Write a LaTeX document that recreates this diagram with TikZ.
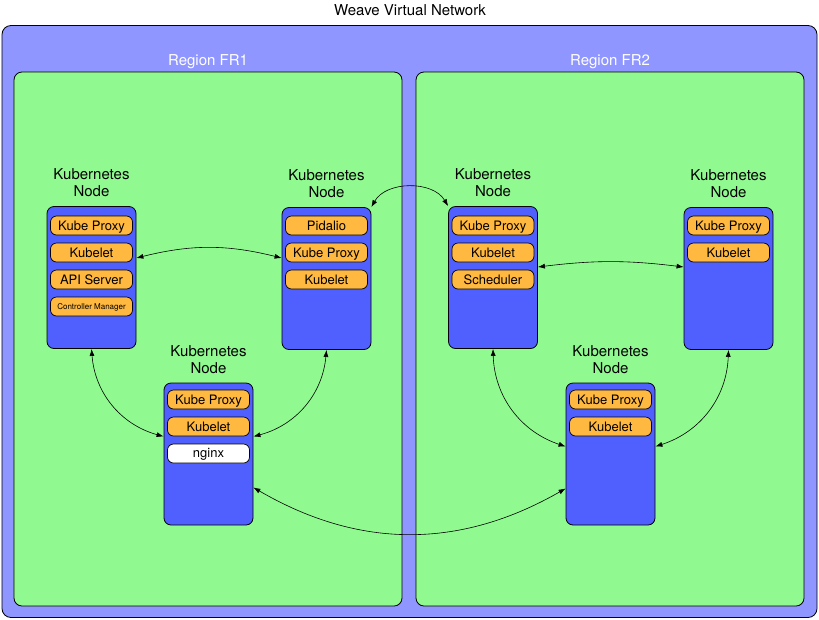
\documentclass[tikz,border=0pt]{standalone}
\usepackage{fontspec}
\setmainfont{TeX Gyre Heros}
\usetikzlibrary{positioning,arrows.meta}
\definecolor{netblue}{RGB}{143,150,255}
\definecolor{regiongreen}{RGB}{144,250,144}
\definecolor{nodeblue}{RGB}{80,96,255}
\definecolor{pillorange}{RGB}{255,184,64}
\begin{document}
\begin{tikzpicture}[x=1pt, y=-1pt,
    network/.style={draw, fill=netblue, rounded corners=9pt, line width=0.8pt, inner sep=0pt},
    region/.style={draw, fill=regiongreen, rounded corners=8pt, line width=0.8pt, minimum width=388pt, minimum height=534pt, inner sep=0pt},
    regiontitle/.style={text=white, font=\fontsize{15}{17}\selectfont, inner sep=0pt, text height=10.8pt, text depth=0pt},
    kubenode/.style={draw, fill=nodeblue, rounded corners=7pt, line width=0.8pt, minimum width=89pt, minimum height=142pt, inner sep=0pt},
    nodetitle/.style={align=center, font=\fontsize{15}{17}\selectfont, inner sep=0pt},
    pill/.style={draw, fill=pillorange, rounded corners=6pt, line width=0.7pt, minimum width=82pt, minimum height=19pt, inner sep=0pt, font=\fontsize{13}{15}\selectfont, text height=9.4pt, text depth=0pt},
    link/.style={{Latex[length=7pt,width=5pt]}-{Latex[length=7pt,width=5pt]}, line width=0.6pt}]
  \useasboundingbox (0,0) rectangle (819,619);

  % network and the two regions
  \node[network, minimum width=815pt, minimum height=592pt] (net) at (409.5,321.5) {};
  \node[font=\fontsize{15}{17}\selectfont, inner sep=0pt] (nettitle) at (410,10) {Weave Virtual Network};
  \node[region] (fr1) at (208,339) {};
  \node[region] (fr2) at (610,339) {};
  \node[regiontitle] (fr1title) at (208,60) {Region FR1};
  \node[regiontitle] (fr2title) at (610,60) {Region FR2};

  % kubernetes nodes
  \node[kubenode] (fr1a) at (91.5,277.5) {};
  \node[kubenode] (fr1b) at (326.5,278.5) {};
  \node[kubenode] (fr1c) at (208.5,454) {};
  \node[kubenode] (fr2a) at (493,277.5) {};
  \node[kubenode] (fr2b) at (728.5,278.5) {};
  \node[kubenode] (fr2c) at (610.5,454) {};
  \node[nodetitle, above=9pt of fr1a] {Kubernetes\\Node};
  \node[nodetitle, above=9pt of fr1b] {Kubernetes\\Node};
  \node[nodetitle, above=9pt of fr1c] {Kubernetes\\Node};
  \node[nodetitle, above=9pt of fr2a] {Kubernetes\\Node};
  \node[nodetitle, above=9pt of fr2b] {Kubernetes\\Node};
  \node[nodetitle, above=9pt of fr2c] {Kubernetes\\Node};

  % services
  \node[pill] (fr1a-proxy) at (91.5,225.5) {Kube Proxy};
  \node[pill] (fr1a-kubelet) at (91.5,252.5) {Kubelet};
  \node[pill] (fr1a-api) at (91.5,279.5) {API Server};
  \node[pill, font=\fontsize{8}{9}\selectfont, text height=5.8pt] (fr1a-ctrl) at (91.5,306.5) {Controller Manager};
  \node[pill] (fr1b-pidalio) at (326.5,225.5) {Pidalio};
  \node[pill] (fr1b-proxy) at (326.5,252.5) {Kube Proxy};
  \node[pill] (fr1b-kubelet) at (326.5,279.5) {Kubelet};
  \node[pill] (fr1c-proxy) at (208.5,399.5) {Kube Proxy};
  \node[pill] (fr1c-kubelet) at (208.5,426.5) {Kubelet};
  \node[pill, fill=white, text height=8pt] (fr1c-nginx) at (208.5,453.5) {nginx};
  \node[pill] (fr2a-proxy) at (493,225.5) {Kube Proxy};
  \node[pill] (fr2a-kubelet) at (493,252.5) {Kubelet};
  \node[pill] (fr2a-sched) at (493,279.5) {Scheduler};
  \node[pill] (fr2b-proxy) at (728.5,225.5) {Kube Proxy};
  \node[pill] (fr2b-kubelet) at (728.5,252.5) {Kubelet};
  \node[pill] (fr2c-proxy) at (610.5,399.5) {Kube Proxy};
  \node[pill] (fr2c-kubelet) at (610.5,426.5) {Kubelet};

  % links
  \draw[link] ([yshift=19.5pt]fr1a.east) to[bend left=14] ([yshift=20.5pt]fr1b.west);
  \draw[link] (fr1b.north east) to[bend left=60] (fr2a.north west);
  \draw[link] ([yshift=10.5pt]fr2a.east) to[bend left=7] ([yshift=11.5pt]fr2b.west);
  \draw[link] (fr1a.south) to[bend right=35] ([yshift=17.5pt]fr1c.west);
  \draw[link] (fr1b.south) to[bend left=35] ([yshift=17.5pt]fr1c.east);
  \draw[link] (fr2a.south) to[bend right=35] ([yshift=7.5pt]fr2c.west);
  \draw[link] (fr2b.south) to[bend left=35] ([yshift=7.5pt]fr2c.east);
  \draw[link] ([yshift=-33.5pt]fr1c.east) to[bend right=30] ([yshift=-34.5pt]fr2c.west);
\end{tikzpicture}
\end{document}
